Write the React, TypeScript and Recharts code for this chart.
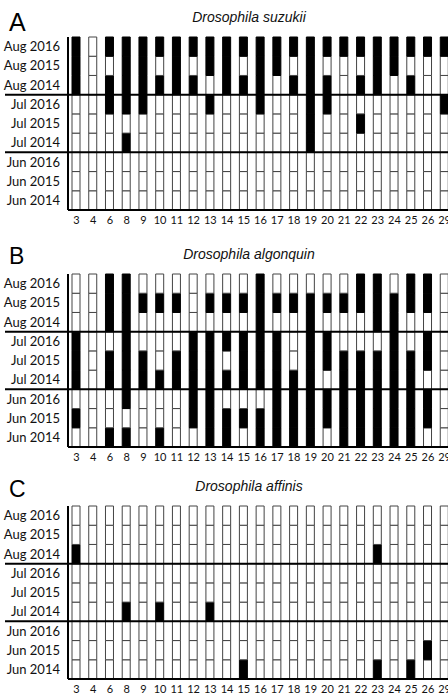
import { BarChart, Bar, XAxis, YAxis, Cell, ReferenceLine } from "recharts";

// collection days (columns)
const days = ["3", "4", "6", "8", "9", "10", "11", "12", "13", "14", "15", "16", "17", "18", "19", "20", "21", "22", "23", "24", "25", "26", "29"];

// rows, top to bottom
const rowLabels = ["Aug 2016", "Aug 2015", "Aug 2014", "Jul 2016", "Jul 2015", "Jul 2014", "Jun 2016", "Jun 2015", "Jun 2014"];

// 1 = present (black), 0 = absent (white); one array per row, top to bottom
const suzukii = [
  [1, 0, 1, 1, 1, 1, 1, 1, 1, 1, 1, 1, 1, 1, 1, 1, 1, 1, 1, 1, 1, 1, 1],
  [1, 0, 0, 1, 1, 0, 1, 0, 1, 1, 0, 1, 1, 0, 1, 0, 0, 0, 1, 1, 0, 0, 0],
  [1, 0, 1, 1, 1, 1, 1, 1, 0, 1, 1, 1, 0, 1, 1, 1, 0, 1, 1, 0, 1, 0, 0],
  [0, 0, 1, 1, 1, 0, 0, 0, 1, 0, 0, 1, 0, 0, 1, 1, 0, 0, 0, 0, 0, 0, 1],
  [0, 0, 0, 0, 0, 0, 0, 0, 0, 0, 0, 0, 0, 0, 1, 0, 0, 1, 0, 0, 0, 0, 0],
  [0, 0, 0, 1, 0, 0, 0, 0, 0, 0, 0, 0, 0, 0, 1, 0, 0, 0, 0, 0, 0, 0, 0],
  [0, 0, 0, 0, 0, 0, 0, 0, 0, 0, 0, 0, 0, 0, 0, 0, 0, 0, 0, 0, 0, 0, 0],
  [0, 0, 0, 0, 0, 0, 0, 0, 0, 0, 0, 0, 0, 0, 0, 0, 0, 0, 0, 0, 0, 0, 0],
  [0, 0, 0, 0, 0, 0, 0, 0, 0, 0, 0, 0, 0, 0, 0, 0, 0, 0, 0, 0, 0, 0, 0],
];

const algonquin = [
  [0, 0, 1, 1, 0, 0, 0, 0, 0, 0, 0, 1, 0, 0, 0, 0, 0, 1, 1, 0, 1, 1, 0],
  [0, 0, 1, 1, 1, 1, 1, 0, 1, 1, 1, 1, 1, 1, 1, 1, 1, 1, 1, 1, 1, 1, 0],
  [0, 0, 1, 1, 0, 0, 0, 0, 0, 0, 0, 1, 0, 0, 1, 0, 0, 0, 1, 1, 0, 0, 0],
  [1, 0, 0, 1, 0, 0, 0, 1, 1, 1, 1, 1, 1, 0, 1, 1, 0, 0, 0, 1, 0, 1, 0],
  [1, 0, 1, 1, 1, 0, 1, 1, 1, 0, 1, 1, 1, 0, 1, 1, 1, 1, 1, 1, 1, 1, 0],
  [1, 0, 1, 1, 1, 1, 1, 1, 1, 1, 1, 1, 1, 1, 1, 0, 1, 1, 1, 1, 1, 0, 0],
  [0, 0, 0, 1, 0, 0, 0, 1, 1, 0, 0, 0, 1, 1, 1, 1, 1, 1, 1, 1, 1, 1, 0],
  [1, 0, 0, 0, 0, 0, 0, 1, 1, 1, 1, 1, 1, 1, 1, 1, 1, 1, 1, 1, 1, 1, 0],
  [0, 0, 1, 1, 0, 1, 0, 0, 1, 1, 0, 1, 1, 1, 1, 0, 1, 1, 1, 1, 1, 0, 0],
];

const affinis = [
  [0, 0, 0, 0, 0, 0, 0, 0, 0, 0, 0, 0, 0, 0, 0, 0, 0, 0, 0, 0, 0, 0, 0],
  [0, 0, 0, 0, 0, 0, 0, 0, 0, 0, 0, 0, 0, 0, 0, 0, 0, 0, 0, 0, 0, 0, 0],
  [1, 0, 0, 0, 0, 0, 0, 0, 0, 0, 0, 0, 0, 0, 0, 0, 0, 0, 1, 0, 0, 0, 0],
  [0, 0, 0, 0, 0, 0, 0, 0, 0, 0, 0, 0, 0, 0, 0, 0, 0, 0, 0, 0, 0, 0, 0],
  [0, 0, 0, 0, 0, 0, 0, 0, 0, 0, 0, 0, 0, 0, 0, 0, 0, 0, 0, 0, 0, 0, 0],
  [0, 0, 0, 1, 0, 1, 0, 0, 1, 0, 0, 0, 0, 0, 0, 0, 0, 0, 0, 0, 0, 0, 0],
  [0, 0, 0, 0, 0, 0, 0, 0, 0, 0, 0, 0, 0, 0, 0, 0, 0, 0, 0, 0, 0, 0, 0],
  [0, 0, 0, 0, 0, 0, 0, 0, 0, 0, 0, 0, 0, 0, 0, 0, 0, 0, 0, 0, 0, 1, 0],
  [0, 0, 0, 0, 0, 0, 0, 0, 0, 0, 1, 0, 0, 0, 0, 0, 0, 0, 1, 0, 1, 0, 0],
];

const rowTicks = [8.5, 7.5, 6.5, 5.5, 4.5, 3.5, 2.5, 1.5, 0.5];

type PanelProps = {
  letter: string;
  title: string;
  matrix: number[][];
  top: number;
  letterY: number;
  letterSize: number;
};

function Panel({ letter, title, matrix, top, letterY, letterSize }: PanelProps) {
  // every cell is one unit of a stack
  const data = days.map((day) => {
    const row: any = { day };
    rowLabels.forEach((_, i) => {
      row["r" + i] = 1;
    });
    return row;
  });

  // bottom row first so it stacks at the bottom
  const order = rowLabels.map((_, i) => i).reverse();

  return (
    <div style={{ position: "absolute", left: 0, top, width: 453, height: 232 }}>
      <BarChart width={453} height={232} data={data} margin={{ top: 37, right: 0, left: 0, bottom: 0 }}>
        <XAxis
          dataKey="day"
          interval={0}
          tickLine={false}
          tickSize={5}
          tickMargin={1}
          height={22}
          axisLine={{ stroke: "#000", strokeWidth: 2 }}
          tick={{ fontSize: 11, fontFamily: "Lato", fill: "#111" }}
        />
        <YAxis
          type="number"
          domain={[0, 9]}
          ticks={rowTicks}
          interval={0}
          width={68}
          tickLine={false}
          axisLine={{ stroke: "#000", strokeWidth: 2 }}
          tick={{ fontSize: 13, fontFamily: "Lato", fill: "#111" }}
          tickFormatter={(v: number) => rowLabels[Math.round(8.5 - v)]}
        />
        {order.map((i) => (
          <Bar key={i} dataKey={"r" + i} stackId="a" barSize={8} isAnimationActive={false}>
            {matrix[i].map((v, j) => (
              <Cell key={j} fill={v ? "#000" : "#fff"} stroke={v ? "#000" : "#444"} strokeWidth={1} />
            ))}
          </Bar>
        ))}
        {[6, 3].map((y) => (
          <ReferenceLine
            key={y}
            y={y}
            ifOverflow="visible"
            stroke="#000"
            strokeWidth={2}
            shape={(p: any) => <line x1={5} y1={p.y1} x2={453} y2={p.y2} stroke="#000" strokeWidth={2} />}
          />
        ))}
      </BarChart>
      <svg width={448} height={40} style={{ position: "absolute", left: 0, top: 0, pointerEvents: "none" }}>
        <text x={9} y={letterY} fontSize={letterSize} fontFamily="Liberation Sans" fill="#000">
          {letter}
        </text>
        <text x={249} y={22} textAnchor="middle" fontStyle="italic" fontSize={14} fontFamily="Liberation Sans" fill="#111">
          {title}
        </text>
      </svg>
    </div>
  );
}

export default function App() {
  return (
    <div style={{ position: "absolute", left: 0, top: 0, width: 448, height: 693, overflow: "hidden", background: "#fff" }}>
      <Panel letter="A" title="Drosophila suzukii" matrix={suzukii} top={0} letterY={31} letterSize={25} />
      <Panel letter="B" title="Drosophila algonquin" matrix={algonquin} top={237} letterY={27} letterSize={23} />
      <Panel letter="C" title="Drosophila affinis" matrix={affinis} top={469} letterY={28} letterSize={23} />
    </div>
  );
}
